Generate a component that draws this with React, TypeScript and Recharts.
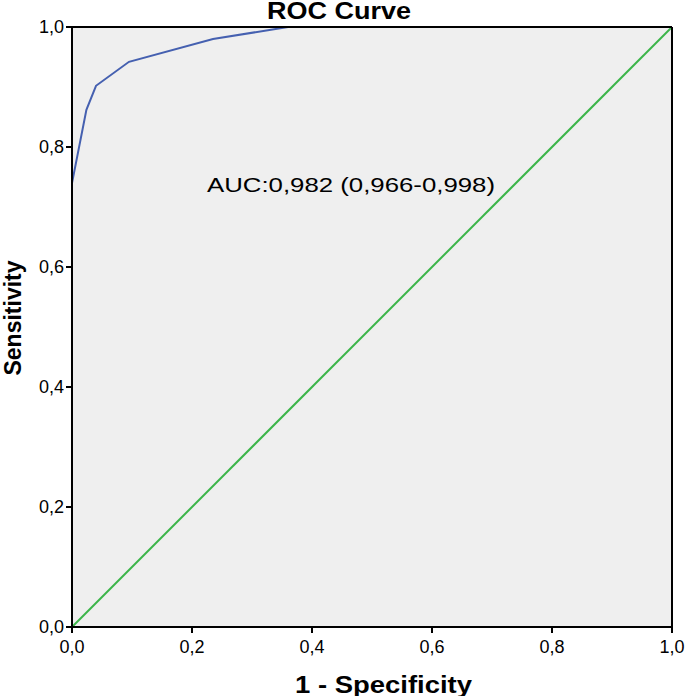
import React from "react";
import { LineChart, Line, XAxis, YAxis, CartesianGrid, ReferenceLine } from "recharts";

const fpr = [0, 0, 0.024, 0.04, 0.095, 0.235, 0.36, 1];
const tpr = [0, 0.74, 0.862, 0.902, 0.942, 0.98, 1, 1];
const refX = [0, 1];
const refY = [0, 1];
const ticks = [0, 0.2, 0.4, 0.6, 0.8, 1];
const title = "ROC Curve";
const xLabel = "1 - Specificity";
const yLabel = "Sensitivity";
const aucText = "AUC:0,982 (0,966-0,998)";

const rocData = fpr.map((x, i) => ({ x, y: tpr[i] }));
const diagData = refX.map((x, i) => ({ x, y: refY[i] }));

const FONT = "'Liberation Sans', Arial, Helvetica, sans-serif";
const fmt = (v: number) => v.toFixed(1).replace(".", ",");

export default function App() {
  return (
    <div style={{ position: "absolute", left: 0, top: 0, width: 685, height: 696, background: "#fff" }}>
      <LineChart
        width={685}
        height={696}
        margin={{ top: 27, right: 13, bottom: 36, left: 0 }}
      >
        <CartesianGrid horizontal={false} vertical={false} fill="#efefef" />
        <XAxis
          dataKey="x"
          type="number"
          domain={[0, 1]}
          ticks={ticks}
          tickFormatter={fmt}
          height={33}
          tickSize={6}
          tickMargin={7}
          axisLine={{ stroke: "#000", strokeWidth: 2 }}
          tickLine={{ stroke: "#000", strokeWidth: 2 }}
          tick={{ fill: "#000", fontSize: 18, fontFamily: FONT }}
          allowDuplicatedCategory={false}
        />
        <YAxis
          dataKey="y"
          type="number"
          domain={[0, 1]}
          ticks={ticks}
          tickFormatter={fmt}
          width={72}
          tickSize={6}
          tickMargin={2}
          axisLine={{ stroke: "#000", strokeWidth: 2 }}
          tickLine={{ stroke: "#000", strokeWidth: 2 }}
          tick={{ fill: "#000", fontSize: 18, fontFamily: FONT }}
        />
        <Line data={diagData} dataKey="y" stroke="#3cb54a" strokeWidth={2} dot={false} isAnimationActive={false} />
        <Line data={rocData} dataKey="y" stroke="#4560b0" strokeWidth={2} dot={false} isAnimationActive={false} />
        <ReferenceLine x={0} stroke="#000" strokeWidth={2} />
        <ReferenceLine y={1} stroke="#000" strokeWidth={2} />
        <ReferenceLine x={1} stroke="#000" strokeWidth={2} />
      </LineChart>
      <svg
        width={685}
        height={696}
        style={{ position: "absolute", left: 0, top: 0, pointerEvents: "none" }}
      >
        <text x={267} y={19} fontFamily={FONT} fontWeight="bold" fontSize={24} textLength={144} lengthAdjust="spacingAndGlyphs" fill="#000">
          {title}
        </text>
        <text x={295} y={693} fontFamily={FONT} fontWeight="bold" fontSize={23} textLength={177} lengthAdjust="spacingAndGlyphs" fill="#000">
          {xLabel}
        </text>
        <text
          x={21}
          y={318}
          transform="rotate(-90 21 318)"
          textAnchor="middle"
          fontFamily={FONT}
          fontWeight="bold"
          fontSize={23}
          fill="#000"
        >
          {yLabel}
        </text>
        <text x={207} y={192} fontFamily={FONT} fontSize={21} textLength={288} lengthAdjust="spacingAndGlyphs" fill="#000">
          {aucText}
        </text>
      </svg>
    </div>
  );
}
